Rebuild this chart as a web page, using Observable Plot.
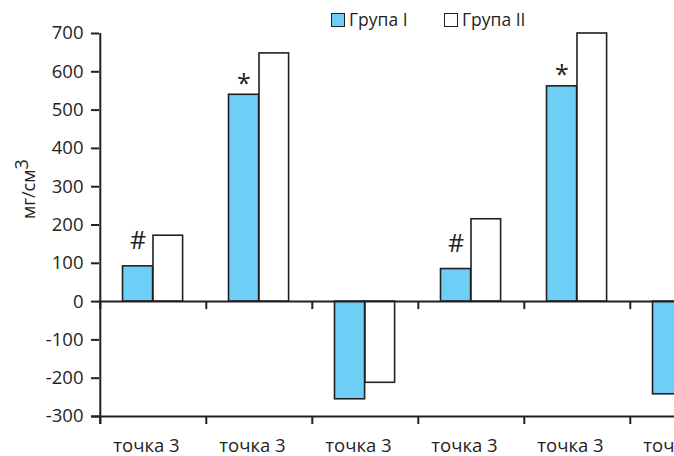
<!DOCTYPE html>
<html><head><meta charset="utf-8">
<script src="https://cdn.jsdelivr.net/npm/d3@7"></script>
<script src="https://cdn.jsdelivr.net/npm/@observablehq/plot@0.6"></script>
<style>
html,body{margin:0;padding:0;background:#fff;overflow:hidden;}
#wrap{position:relative;width:674px;height:456px;overflow:hidden;font-family:"Open Sans",sans-serif;}
.item{position:absolute;top:9px;display:flex;align-items:center;white-space:nowrap;font-size:17.5px;color:#231f20;line-height:21px;}
.sw{width:12px;height:12px;border:1.6px solid #231f20;margin-right:4px;}
</style></head><body>
<div id="wrap"></div>
<script>
// ---- data ----
const categories = ["c1","c2","c3","c4","c5","c6"];
const tickLabels = ["точка 3","точка 3","точка 3","точка 3","точка 3","точка 3"];
const groupNames = ["Група I","Група II"];
const groupColors = ["#6dcff6","#ffffff"];
const group1 = [92, 540, -255, 85, 562, -242];
const group2 = [172, 648, -212, 215, 700, -200];
const significance = ["#","*","","#","*",""];
const yTicks = [-300,-200,-100,0,100,200,300,400,500,600,700];
const yLabel = "мг/см3";

const ink = "#231f20";
const data = categories.map((c,i)=>({cat:c, g1:group1[i], g2:group2[i], sig:significance[i]}));
const step = 106.4;
const W = 740;

const chart = Plot.plot({
  width: W, height: 456,
  marginLeft: 99, marginRight: W - 99 - 6*step, marginTop: 33, marginBottom: 40,
  style: {fontFamily: "Open Sans", fontSize: "18px", color: ink, maxWidth: "none", overflow: "visible", background: "white"},
  x: {domain: categories, padding: 0, axis: null},
  y: {domain: [-300, 700], axis: null},
  marks: [
    Plot.barY(data, {x:"cat", y:"g1", fill: groupColors[0], stroke: ink, strokeWidth: 1.6, insetLeft: 22.5, insetRight: step - 53}),
    Plot.barY(data, {x:"cat", y:"g2", fill: groupColors[1], stroke: ink, strokeWidth: 1.6, insetLeft: 53, insetRight: step - 83}),
    Plot.ruleY([0], {stroke: ink, strokeWidth: 2}),
    Plot.ruleY([-300], {stroke: ink, strokeWidth: 2, insetLeft: -8}),
    Plot.ruleX(data, {x:"cat", dx: -step/2, y1: 0, y2: 0, insetBottom: -8, stroke: ink, strokeWidth: 2}),
    Plot.ruleX(data, {x:"cat", dx: -step/2, y1: -300, y2: -300, insetBottom: -8, stroke: ink, strokeWidth: 2}),
    Plot.ruleX([categories[0]], {x: d=>d, dx: -step/2, y1: 700, y2: -300, insetBottom: -8, stroke: ink, strokeWidth: 2}),
    Plot.axisY({ticks: yTicks, anchor: "left", tickSize: 8, tickPadding: 8, label: null, tickFormat: d => String(d), stroke: ink, strokeWidth: 2, fill: ink, fontSize: 18.5}),
    Plot.axisX({tickSize: 0, tickPadding: 22, dx: -7, label: null, tickFormat: d => tickLabels[categories.indexOf(d)], fill: ink, fontSize: 18.5}),
    Plot.text(data.filter(d=>d.sig==="#"), {x:"cat", y:"g1", text:"sig", dx: -15.5, dy: -25, fontSize: 25, fill: ink}),
    Plot.text(data.filter(d=>d.sig==="*"), {x:"cat", y:"g1", text:"sig", dx: -15.5, dy: -11, fontSize: 25, fill: ink}),
    Plot.text([yLabel], {frameAnchor: "left", dx: -70, dy: -6, rotate: -90, fontSize: 18, fill: ink})
  ]
});

// superscript for the unit label
d3.select(chart).selectAll("text").filter(function(){ return this.textContent === yLabel; })
  .each(function(){
    const t = d3.select(this);
    t.text(null);
    t.append("tspan").text(yLabel.slice(0, -1));
    t.append("tspan").attr("dy", "-0.4em").text(yLabel.slice(-1));
  });

const wrap = document.getElementById("wrap");
wrap.appendChild(chart);

const legendPos = [331, 444];
groupNames.forEach((g, i) => {
  const it = document.createElement("div");
  it.className = "item";
  it.style.left = legendPos[i] + "px";
  const sw = document.createElement("div");
  sw.className = "sw";
  sw.style.background = groupColors[i];
  const tx = document.createElement("span");
  tx.textContent = g;
  it.appendChild(sw); it.appendChild(tx);
  wrap.appendChild(it);
});
</script>
</body></html>
